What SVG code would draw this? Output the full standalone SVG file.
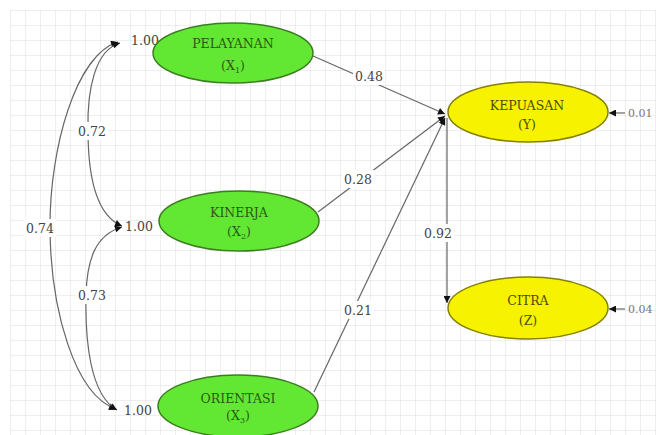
<svg xmlns="http://www.w3.org/2000/svg" width="656" height="435" viewBox="0 0 656 435">
<defs>
<pattern id="grid" x="10" y="10" width="15" height="15" patternUnits="userSpaceOnUse">
<path d="M 0 0 L 15 0 M 0 0 L 0 15" fill="none" stroke="#dddddd" stroke-width="1"/>
</pattern>
<marker id="arr" viewBox="0 0 10 10" refX="10" refY="5" markerWidth="9" markerHeight="7" markerUnits="userSpaceOnUse" orient="auto-start-reverse">
<path d="M 0 0 L 10 5 L 0 10 z" fill="#111"/>
</marker>
</defs>
<style>
.bg{fill:url(#grid)}
.conn path{fill:none;stroke:#666;stroke-width:1.2}
.lbl{font-family:"DejaVu Serif",serif;font-size:12.5px;fill:#444;text-anchor:middle}
.err{font-family:"DejaVu Serif",serif;font-size:11px;fill:#777}
.lblbg{fill:#fff}
.nt{font-family:"DejaVu Serif",serif;font-size:12.5px;text-anchor:middle}
.g ellipse{fill:#62e832;stroke:#3d7d22;stroke-width:1.5}
.g text{fill:#2b5a14}
.y ellipse{fill:#f6f200;stroke:#858000;stroke-width:1.5}
.y text{fill:#4f4c00}
.sub{font-size:8px}
</style>
<rect width="656" height="435" fill="#fff"/>
<rect class="bg" x="10" y="10" width="646" height="425"/>

<g id="connectors" class="conn">
<path d="M 118 42 C 75 55, 50 150, 50 225 C 50 310, 75 395, 116 409" marker-start="url(#arr)" marker-end="url(#arr)"/>
<path d="M 120 43 C 95 50, 87 90, 88 130 C 88 175, 95 215, 122 226" marker-start="url(#arr)" marker-end="url(#arr)"/>
<path d="M 122 227 C 95 235, 87 260, 86 295 C 85 340, 90 395, 117 410" marker-start="url(#arr)" marker-end="url(#arr)"/>
<path d="M 313 56 L 445 114" marker-end="url(#arr)"/>
<path d="M 318 212 L 445 116" marker-end="url(#arr)"/>
<path d="M 314 392 L 445 118" marker-end="url(#arr)"/>
<path d="M 447 118 L 447 303" marker-end="url(#arr)"/>
<path d="M 625 113 L 609 113" marker-end="url(#arr)"/>
<path d="M 625 309 L 609 309" marker-end="url(#arr)"/>
<rect class="lblbg" x="76" y="122" width="32" height="18"/>
<text class="lbl" x="92" y="136">0.72</text>
<rect class="lblbg" x="76" y="286" width="32" height="18"/>
<text class="lbl" x="92" y="300">0.73</text>
<rect class="lblbg" x="24" y="219" width="32" height="18"/>
<text class="lbl" x="40" y="233">0.74</text>
<text class="lbl" x="145" y="45">1.00</text>
<text class="lbl" x="139" y="231">1.00</text>
<text class="lbl" x="138" y="415">1.00</text>
<rect class="lblbg" x="353" y="67" width="32" height="18"/>
<text class="lbl" x="369" y="81">0.48</text>
<rect class="lblbg" x="342" y="170" width="32" height="18"/>
<text class="lbl" x="358" y="184">0.28</text>
<rect class="lblbg" x="342" y="301" width="32" height="18"/>
<text class="lbl" x="358" y="315">0.21</text>
<rect class="lblbg" x="422" y="224" width="32" height="18"/>
<text class="lbl" x="438" y="238">0.92</text>
<text class="err" x="628" y="117">0.01</text>
<text class="err" x="628" y="313">0.04</text>
</g>

<g id="pelayanan" class="g">
<ellipse cx="233" cy="53" rx="80" ry="30"/>
<text class="nt" x="233" y="48">PELAYANAN</text>
<text class="nt" x="233" y="70">(X<tspan class="sub" dy="3">1</tspan><tspan dy="-3">)</tspan></text>
</g>
<g id="kinerja" class="g">
<ellipse cx="239" cy="221" rx="80" ry="30"/>
<text class="nt" x="239" y="217">KINERJA</text>
<text class="nt" x="239" y="236">(X<tspan class="sub" dy="3">2</tspan><tspan dy="-3">)</tspan></text>
</g>
<g id="orientasi" class="g">
<ellipse cx="238" cy="406" rx="80" ry="31"/>
<text class="nt" x="238" y="403">ORIENTASI</text>
<text class="nt" x="238" y="420">(X<tspan class="sub" dy="3">3</tspan><tspan dy="-3">)</tspan></text>
</g>
<g id="kepuasan" class="y">
<ellipse cx="528" cy="112" rx="80" ry="30"/>
<text class="nt" x="527" y="110">KEPUASAN</text>
<text class="nt" x="527" y="129">(Y)</text>
</g>
<g id="citra" class="y">
<ellipse cx="528" cy="308" rx="80" ry="31"/>
<text class="nt" x="528" y="305">CITRA</text>
<text class="nt" x="528" y="325">(Z)</text>
</g>
</svg>
